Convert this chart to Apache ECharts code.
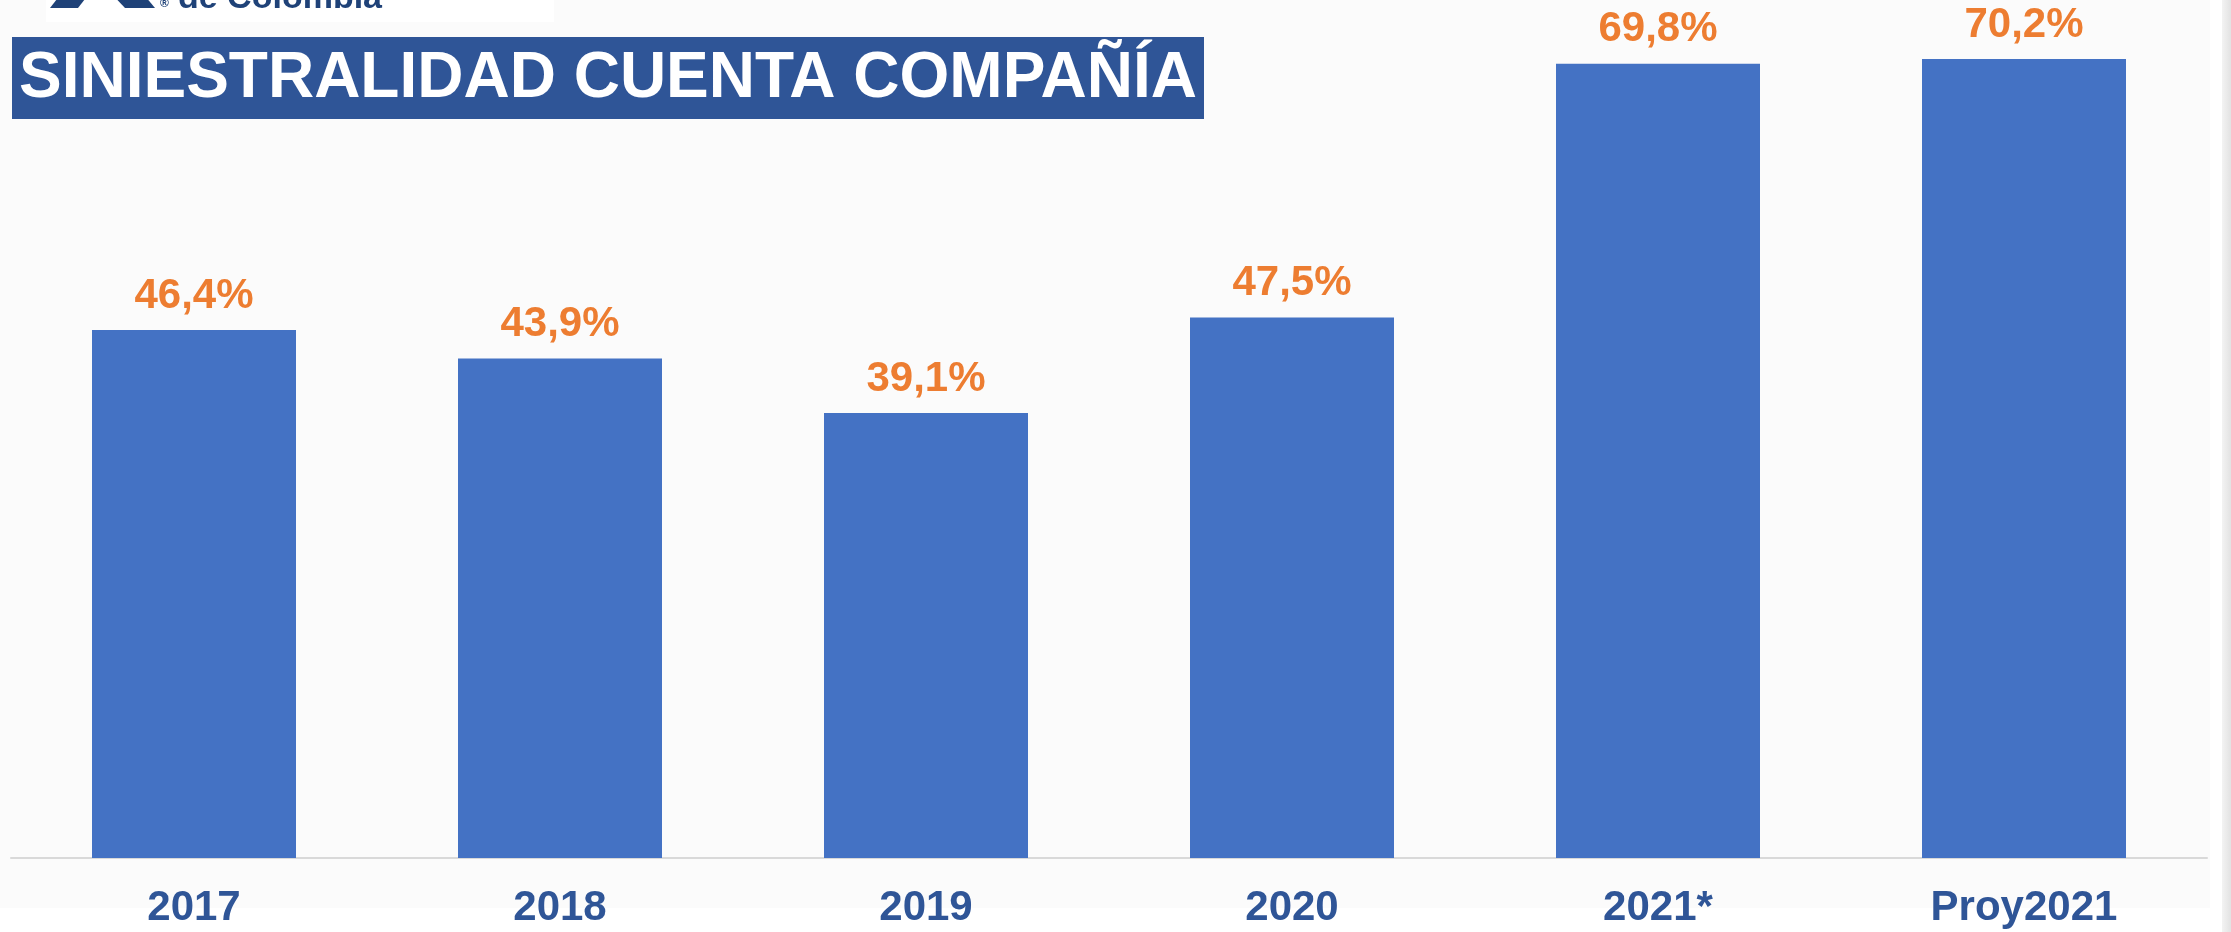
<!DOCTYPE html>
<html>
<head>
<meta charset="utf-8">
<script src="https://cdn.jsdelivr.net/npm/echarts@6/dist/echarts.min.js"></script>
<style>
html,body{margin:0;padding:0;background:#ffffff;}
#chart{width:2231px;height:932px;}
</style>
</head>
<body>
<div id="chart"></div>
<script>
const categories = ['2017', '2018', '2019', '2020', '2021*', 'Proy2021'];
const siniestralidad = [46.4, 43.9, 39.1, 47.5, 69.8, 70.2];
const titleText = 'SINIESTRALIDAD CUENTA COMPAÑÍA';
const logoText = 'de Colombia';

const chart = echarts.init(document.getElementById('chart'), null, {renderer: 'canvas'});
const FONT = '"Liberation Sans", Arial, sans-serif';

const option = {
  backgroundColor: '#ffffff',
  animation: false,
  grid: {left: 11, right: 24, top: 4.5, bottom: 74, containLabel: false},
  xAxis: {
    type: 'category',
    data: categories,
    axisLine: {show: true, lineStyle: {color: '#d9d9d9', width: 2}},
    axisTick: {show: false},
    axisLabel: {
      color: '#2f5597', fontFamily: FONT, fontWeight: 'bold', fontSize: 42, margin: 29
    }
  },
  yAxis: {
    type: 'value', min: 0, max: 75,
    show: false,
    splitLine: {show: false}
  },
  series: [{
    type: 'bar',
    data: siniestralidad,
    barWidth: 204,
    itemStyle: {color: '#4472c4'},
    label: {
      show: true, position: 'top', distance: 13,
      color: '#ed7d31', fontFamily: FONT, fontWeight: 'bold', fontSize: 42,
      formatter: p => p.value.toFixed(1).replace('.', ',') + '%'
    }
  }],
  graphic: [
    {type: 'rect', z: -10, silent: true, shape: {x: 0, y: 0, width: 2210, height: 908}, style: {fill: '#fbfbfb'}},
    {type: 'rect', z: -10, silent: true, shape: {x: 2222, y: 0, width: 9, height: 932},
      style: {fill: new echarts.graphic.LinearGradient(0, 0, 1, 0, [{offset: 0, color: '#f3f3f3'}, {offset: 1, color: '#e2e2e2'}])}},
    {type: 'rect', z: -5, silent: true, shape: {x: 46, y: 0, width: 508, height: 22}, style: {fill: '#ffffff'}},
    {type: 'polygon', z: 5, silent: true, shape: {points: [[50, 8], [78, 8], [92, -10], [64, -10]]}, style: {fill: '#1f4278'}},
    {type: 'polygon', z: 5, silent: true, shape: {points: [[108, -10], [125, 8], [155, 8], [140, -10]]}, style: {fill: '#1f4278'}},
    {type: 'text', z: 5, silent: true, style: {x: 160, y: 10, text: '®', fill: '#1f4278', font: 'bold 12px ' + FONT, verticalAlign: 'bottom'}},
    {type: 'text', z: 5, silent: true, style: {x: 178, y: 16, text: logoText, fill: '#1f4278', font: 'bold 34px "Liberation Sans Narrow", "Liberation Sans", Arial, sans-serif', verticalAlign: 'bottom'}},
    {type: 'rect', z: 5, silent: true, shape: {x: 12, y: 37, width: 1192, height: 82}, style: {fill: '#2f5597'}},
    {type: 'text', z: 6, silent: true, style: {x: 608, y: 79, text: titleText, fill: '#ffffff', font: 'bold 64px ' + FONT, align: 'center', verticalAlign: 'middle'}}
  ]
};
chart.setOption(option);
</script>
</body>
</html>
